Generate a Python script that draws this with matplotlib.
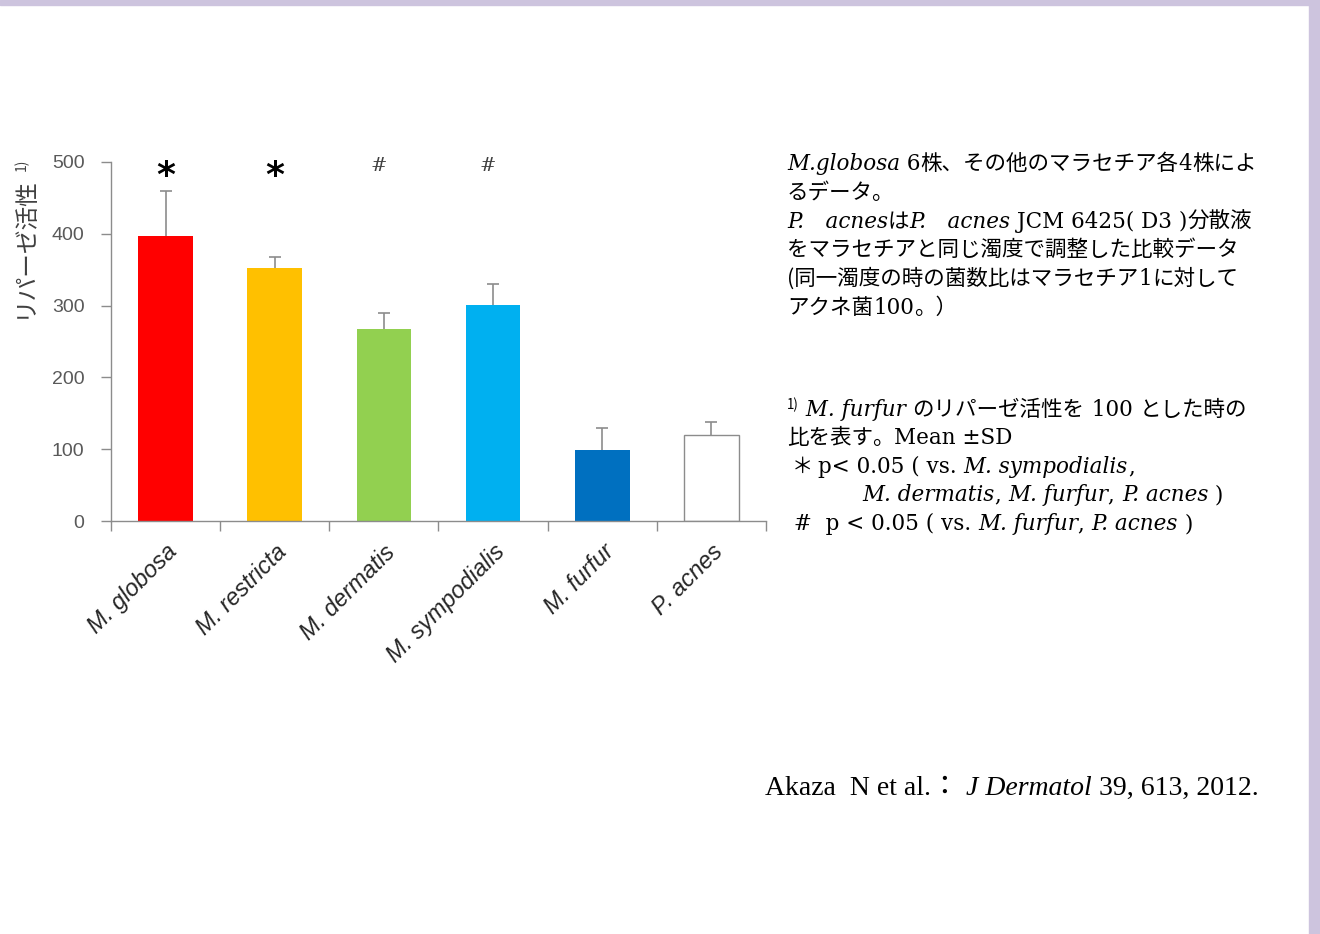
import matplotlib
matplotlib.use("Agg")
import matplotlib.pyplot as plt
from matplotlib.patches import Rectangle

W, H = 1320, 934

species = ["M. globosa", "M. restricta", "M. dermatis", "M. sympodialis", "M. furfur", "P. acnes"]
lipase = [397, 352, 267, 301, 99, 120]
sd = [63, 16, 23, 29, 31, 18]
bar_colors = ["#ff0000", "#ffc000", "#92d050", "#00b0f0", "#0070c0", "#ffffff"]
marks = ["*", "*", "#", "#", "", ""]
y_ticks = [0, 100, 200, 300, 400, 500]

JP = ["Noto Sans CJK JP", "DejaVu Sans"]
SERIF = ["DejaVu Serif", "Noto Sans CJK JP"]
TIMES = ["Liberation Serif", "Noto Sans CJK JP"]

STYLES = {
    "jp": dict(family=JP),
    "rm": dict(family=SERIF),
    "it": dict(family=SERIF, style="italic"),
    "sup": dict(family=JP, scale=0.62, rise=7),
    "tm": dict(family=TIMES),
    "tmi": dict(family=TIMES, style="italic"),
}

note_lines = [
    (170, [("M.globosa", "it"), (" 6", "rm"), ("株、その他のマラセチア各", "jp"), ("4", "rm"), ("株によ", "jp")]),
    (199, [("るデータ。", "jp")]),
    (228, [("P.\u3000acnes", "it"), ("は", "jp"), ("P.\u3000acnes", "it"), (" JCM 6425( D3 )", "rm"), ("分散液", "jp")]),
    (256, [("をマラセチアと同じ濁度で調整した比較データ", "jp")]),
    (285, [("(同一濁度の時の菌数比はマラセチア", "jp"), ("1", "rm"), ("に対して", "jp")]),
    (314, [("アクネ菌", "jp"), ("100", "rm"), ("。）", "jp")]),
    (416, [("1)", "sup"), (" M. furfur ", "it"), ("のリパーゼ活性を", "jp"), (" 100 ", "rm"), ("とした時の", "jp")]),
    (444, [("比を表す。", "jp"), ("Mean ±SD", "rm")]),
    (473, [(" ＊ ", "jp"), ("p< 0.05 ( vs. ", "rm"), ("M. sympodialis", "it"), (",", "rm")]),
    (501, [("           ", "rm"), ("M. dermatis", "it"), (", ", "rm"), ("M. furfur", "it"), (", ", "rm"), ("P. acnes", "it"), (" )", "rm")]),
    (530, [(" #  p < 0.05 ( vs. ", "rm"), ("M. furfur", "it"), (", ", "rm"), ("P. acnes", "it"), (" )", "rm")]),
]

citation = [("Akaza  N et al.\uff1a ", "tm"), ("J Dermatol", "tmi"), (" 39, 613, 2012.", "tm")]


def seg_width(fig, r, s, kw):
    t = fig.text(0, 0, "|" + s + "|", **kw)
    t2 = fig.text(0, 0, "||", **kw)
    w = t.get_window_extent(r).width - t2.get_window_extent(r).width
    t.remove()
    t2.remove()
    return w


def rich_line(fig, r, x_px, y_px, parts, size):
    x = x_px
    for s, style in parts:
        st = dict(STYLES[style])
        scale = st.pop("scale", 1.0)
        rise = st.pop("rise", 0)
        kw = dict(st, fontsize=size * scale, color="black")
        fig.text(x / W, 1 - (y_px - rise) / H, s, va="baseline", ha="left", **kw)
        x += seg_width(fig, r, s, kw)


fig = plt.figure(figsize=(W / 100, H / 100), dpi=100)
r = fig.canvas.get_renderer()

# page frame
fig.patches.append(Rectangle((0, 1 - 5 / H), 1, 5 / H, transform=fig.transFigure,
                             color="#cdc4de", zorder=0))
fig.patches.append(Rectangle((1 - 11 / W, 0), 11 / W, 1, transform=fig.transFigure,
                             color="#cdc4de", zorder=0))

ax = fig.add_axes([111 / W, 1 - 521 / H, (766 - 111) / W, (521 - 162) / H])
pos = list(range(len(species)))
ax.bar(pos, lipase, width=0.5, color=bar_colors, edgecolor=["none"] * 5 + ["#8c8c8c"],
       linewidth=1, zorder=2)
eb = ax.errorbar(pos, lipase, yerr=[[0] * len(sd), sd], fmt="none", ecolor="#8c8c8c",
                 elinewidth=1.2, capsize=4, capthick=1.2, zorder=1)
eb[1][0].set_visible(False)  # no cap at the bar top

for x, m in zip(pos, marks):
    if m == "*":
        ax.text(x, 481, "*", ha="center", va="center", fontsize=26, fontweight="bold",
                family="DejaVu Sans", color="black")
    elif m == "#":
        ax.text(x - 0.05, 494, "#", ha="center", va="center", fontsize=14, family="DejaVu Serif",
                color="#404040")

ax.set_xlim(-0.5, len(species) - 0.5)
ax.set_ylim(0, 500)
ax.set_yticks(y_ticks)
ax.set_yticklabels([str(v) for v in y_ticks], family="Liberation Sans", fontsize=14,
                   color="#595959")
ax.tick_params(axis="y", length=7, width=1, color="#8c8c8c", pad=12)
ax.set_xticks(pos)
ax.set_xticklabels(species, rotation=45, ha="right", va="top", rotation_mode="anchor",
                   family="Liberation Sans", style="italic", fontsize=17, color="#262626")
ax.tick_params(axis="x", which="major", length=0, pad=14)
ax.set_xticks([p - 0.5 for p in pos] + [len(species) - 0.5], minor=True)
ax.tick_params(axis="x", which="minor", length=7, width=1, color="#8c8c8c")
for s in ["top", "right"]:
    ax.spines[s].set_visible(False)
for s in ["left", "bottom"]:
    ax.spines[s].set_color("#8c8c8c")
    ax.spines[s].set_linewidth(1)

# y label with footnote mark
fig.text(24 / W, 1 - 318 / H, "リパーゼ活性", rotation=90, ha="center", va="bottom",
         family=JP, fontsize=17, color="#404040")
fig.text(22 / W, 1 - 159 / H, "1)", rotation=90, ha="center", va="top",
         family=JP, fontsize=10, color="#404040")

for y, parts in note_lines:
    rich_line(fig, r, 787, y, parts, 15.5)

rich_line(fig, r, 765, 795, citation, 20)

fig.savefig("out.png", dpi=100)
